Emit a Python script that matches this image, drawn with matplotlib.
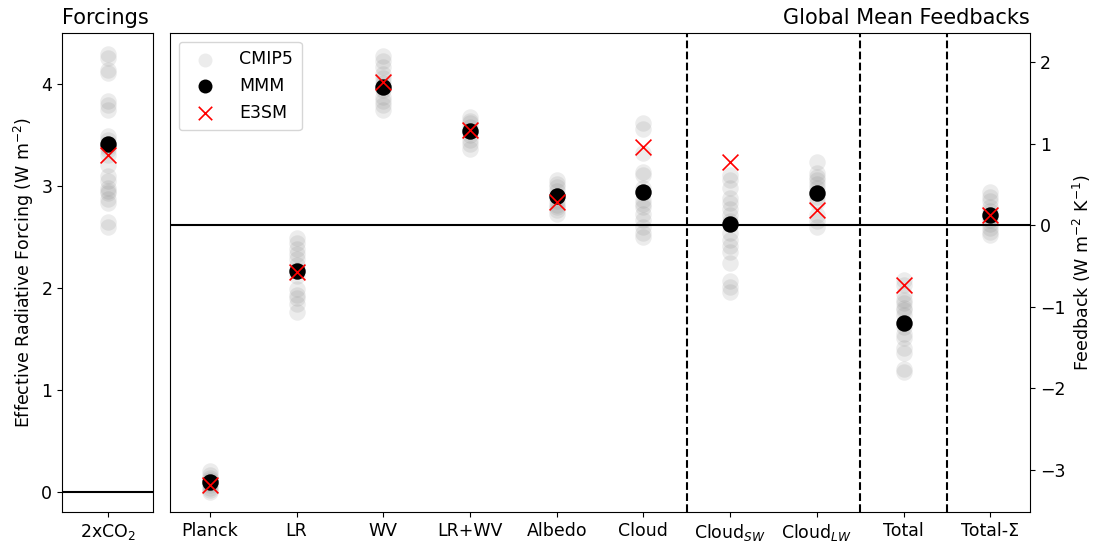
import matplotlib
matplotlib.use('Agg')
import matplotlib.pyplot as plt

# forcing (W m-2)
erf_cmip5 = [4.29, 4.25, 4.14, 4.11, 3.83, 3.79, 3.74, 3.49, 3.45, 3.38, 3.35,
             3.30, 3.20, 3.10, 3.05, 2.98, 2.95, 2.93, 2.87, 2.83, 2.64, 2.60]
erf_mmm = 3.41
erf_e3sm = 3.30

# feedbacks (W m-2 K-1)
fb_names = ['Planck', 'LR', 'WV', 'LR+WV', 'Albedo', 'Cloud',
            'Cloud$_{SW}$', 'Cloud$_{LW}$', 'Total', 'Total-Σ']
fb_cmip5 = [
    [-3.02, -3.06, -3.10, -3.13, -3.15, -3.17, -3.19, -3.22, -3.25, -3.28],
    [-0.16, -0.22, -0.29, -0.35, -0.41, -0.49, -0.55, -0.62, -0.78, -0.86,
     -0.90, -0.97, -1.06],
    [2.08, 2.02, 1.94, 1.86, 1.80, 1.74, 1.66, 1.57, 1.52, 1.47, 1.41],
    [1.33, 1.28, 1.25, 1.20, 1.15, 1.10, 1.05, 1.00, 0.94],
    [0.55, 0.50, 0.47, 0.42, 0.36, 0.30, 0.25, 0.22, 0.18, 0.14],
    [1.25, 1.18, 0.88, 0.65, 0.62, 0.45, 0.31, 0.26, 0.22, 0.14, 0.06,
     -0.02, -0.10, -0.14],
    [0.61, 0.55, 0.45, 0.33, 0.27, 0.20, 0.12, 0.05, -0.10, -0.18, -0.25,
     -0.33, -0.47, -0.69, -0.76, -0.82],
    [0.78, 0.64, 0.59, 0.55, 0.50, 0.45, 0.35, 0.28, 0.12, 0.05, -0.02],
    [-0.67, -0.74, -0.84, -0.92, -0.96, -1.02, -1.04, -1.10, -1.25, -1.33,
     -1.39, -1.51, -1.57, -1.76, -1.80],
    [0.41, 0.35, 0.30, 0.22, 0.17, 0.10, 0.06, 0.02, -0.04, -0.08, -0.12],
]
fb_mmm = [-3.15, -0.56, 1.70, 1.15, 0.36, 0.41, 0.02, 0.39, -1.20, 0.12]
fb_e3sm = [-3.19, -0.58, 1.76, 1.17, 0.29, 0.96, 0.78, 0.18, -0.74, 0.12]

gray_kw = dict(marker='o', color='gray', alpha=0.15, s=140, linewidths=0)
mmm_kw = dict(marker='o', color='k', s=140, linewidths=0, zorder=3)
e3sm_kw = dict(marker='x', color='r', s=130, linewidths=1.2, zorder=4)

fs = 12.5
fig = plt.figure(figsize=(10.96, 5.47), dpi=100)
ax1 = fig.add_axes([0.0566, 0.064, 0.083, 0.876])
ax2 = fig.add_axes([0.155, 0.064, 0.785, 0.876])

# forcing panel
ax1.scatter([0] * len(erf_cmip5), erf_cmip5, **gray_kw)
ax1.scatter([0], [erf_mmm], **mmm_kw)
ax1.scatter([0], [erf_e3sm], **e3sm_kw)
ax1.axhline(0, color='k', lw=1.5)
ax1.set_xlim(-0.5, 0.5)
ax1.set_ylim(-0.2, 4.5)
ax1.set_xticks([0])
ax1.set_xticklabels(['2xCO$_2$'])
ax1.set_yticks([0, 1, 2, 3, 4])
ax1.tick_params(labelsize=fs)
ax1.set_ylabel('Effective Radiative Forcing (W m$^{-2}$)', fontsize=fs)
ax1.set_title('Forcings', loc='left', fontsize=15)

# feedback panel
for i, vals in enumerate(fb_cmip5):
    ax2.scatter([i] * len(vals), vals, label='CMIP5' if i == 0 else None,
                **gray_kw)
ax2.scatter(range(len(fb_mmm)), fb_mmm, label='MMM', **mmm_kw)
ax2.scatter(range(len(fb_e3sm)), fb_e3sm, label='E3SM', **e3sm_kw)
ax2.axhline(0, color='k', lw=1.5)
for xv in [5.5, 7.5, 8.5]:
    ax2.axvline(xv, color='k', ls='--', lw=1.5)
ax2.set_xlim(-0.46, 9.46)
ax2.set_ylim(-3.52, 2.36)
ax2.set_xticks(range(len(fb_names)))
ax2.set_xticklabels(fb_names)
ax2.yaxis.tick_right()
ax2.yaxis.set_label_position('right')
ax2.set_yticks([-3, -2, -1, 0, 1, 2])
ax2.set_yticklabels(['\u22123', '\u22122', '\u22121', '0', '1', '2'])
ax2.tick_params(labelsize=fs)
ax2.set_ylabel('Feedback (W m$^{-2}$ K$^{-1}$)', fontsize=fs)
ax2.set_title('Global Mean Feedbacks', loc='right', fontsize=15)
ax2.legend(loc='upper left', fontsize=fs, markerscale=0.85,
           borderpad=0.5, handletextpad=1.0)

fig.savefig('out.png', dpi=100)
